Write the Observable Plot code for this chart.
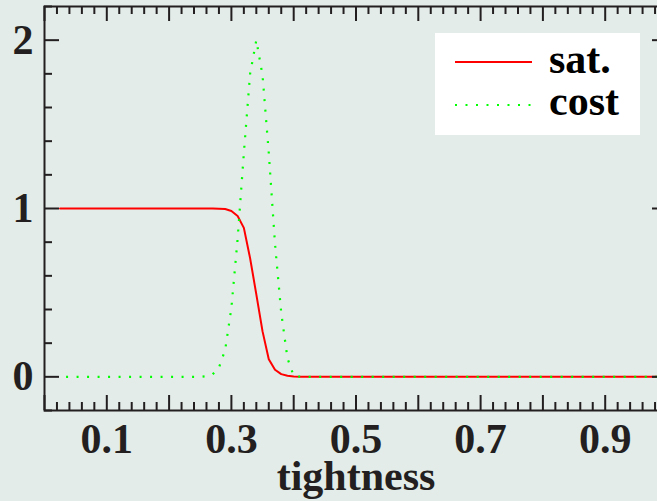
<!DOCTYPE html>
<html>
<head>
<meta charset="utf-8">
<script src="https://cdn.jsdelivr.net/npm/d3@7"></script>
<script src="https://cdn.jsdelivr.net/npm/@observablehq/plot@0.6"></script>
<style>
  html, body { margin: 0; padding: 0; overflow: hidden; background: #e3ece9; }
  #wrap { position: relative; width: 657px; height: 501px; overflow: hidden; }
  #chart svg { max-width: none !important; width: 680px; height: 501px; }
  #legend { position: absolute; left: 435px; top: 33px; width: 205px; height: 102px; background: #ffffff; }
</style>
</head>
<body>
<div id="wrap">
  <div id="chart"></div>
  <div id="legend"></div>
</div>
<script>
// ---- data ----
const tightness = [0.025, 0.05, 0.075, 0.1, 0.125, 0.15, 0.175, 0.2, 0.225, 0.25,
  0.26, 0.27, 0.28, 0.29, 0.30, 0.31, 0.32, 0.33, 0.34, 0.35, 0.36, 0.37, 0.38, 0.39,
  0.40, 0.41, 0.42, 0.45, 0.5, 0.55, 0.6, 0.65, 0.7, 0.75, 0.8, 0.85, 0.9, 0.95, 1.0];
const sat = [1, 1, 1, 1, 1, 1, 1, 1, 1, 1,
  1, 1, 0.999, 0.997, 0.985, 0.955, 0.885, 0.705, 0.49, 0.27, 0.105, 0.042, 0.016, 0.006,
  0.002, 0.001, 0, 0, 0, 0, 0, 0, 0, 0, 0, 0, 0, 0, 0];
const cost = [0, 0, 0, 0, 0, 0, 0, 0, 0, 0,
  0.004, 0.015, 0.055, 0.16, 0.41, 0.82, 1.33, 1.80, 2.0, 1.79, 1.33, 0.79, 0.38, 0.11,
  0.005, 0.001, 0, 0, 0, 0, 0, 0, 0, 0, 0, 0, 0, 0, 0];
const seriesNames = ["sat.", "cost"];

// ---- ticks ----
const xTickLabels = [0.1, 0.3, 0.5, 0.7, 0.9];
const xMajorTicks = [0, 0.1, 0.2, 0.3, 0.4, 0.5, 0.6, 0.7, 0.8, 0.9, 1.0];
const xMinorTicks = [0.02, 0.04, 0.06, 0.08, 0.12, 0.14, 0.16, 0.18, 0.22, 0.24, 0.26, 0.28,
  0.32, 0.34, 0.36, 0.38, 0.42, 0.44, 0.46, 0.48, 0.52, 0.54, 0.56, 0.58, 0.62, 0.64, 0.66, 0.68,
  0.72, 0.74, 0.76, 0.78, 0.82, 0.84, 0.86, 0.88, 0.92, 0.94, 0.96, 0.98];
const yTickLabels = [0, 1, 2];
const yMajorTicks = [0, 1, 2];
const yMinorTicks = [-0.2, 0.2, 0.4, 0.6, 0.8, 1.2, 1.4, 1.6, 1.8, 2.2];
const xLabel = "tightness";

const rows = tightness.map((t, i) => ({t, sat: sat[i], cost: cost[i]}));

const ink = "#231f20";
const W = 680, H = 501, mT = 6, mB = 91, mL = 44, mR = 13;
const plotH = H - mT - mB, plotW = W - mL - mR;
const major = 15, minor = 8;
const font = "'Liberation Serif', 'Times New Roman', serif";
const fs = 42;

const chart = Plot.plot({
  width: W, height: H,
  marginTop: mT, marginBottom: mB, marginLeft: mL, marginRight: mR,
  style: {background: "#e3ece9", fontFamily: font, fontWeight: "bold", color: ink, overflow: "visible", maxWidth: "none"},
  x: {domain: [0, 1]},
  y: {domain: [-0.2, 2.2]},
  marks: [
    Plot.line(rows, {x: "t", y: "sat", stroke: "#ff0000", strokeWidth: 2}),
    Plot.line(rows, {x: "t", y: "cost", stroke: "#00ff00", strokeWidth: 2.2, strokeDasharray: "2,8.5", strokeDashoffset: -6, strokeLinecap: "butt"}),
    // bottom ticks
    Plot.tickX(xMajorTicks, {x: d => d, stroke: ink, strokeWidth: 2, insetTop: plotH - major}),
    Plot.tickX(xMinorTicks, {x: d => d, stroke: ink, strokeWidth: 2, insetTop: plotH - minor}),
    // top ticks
    Plot.tickX(xMajorTicks, {x: d => d, stroke: ink, strokeWidth: 2, insetBottom: plotH - major}),
    Plot.tickX(xMinorTicks, {x: d => d, stroke: ink, strokeWidth: 2, insetBottom: plotH - minor}),
    // left ticks
    Plot.tickY(yMajorTicks, {y: d => d, stroke: ink, strokeWidth: 2, insetRight: plotW - major}),
    Plot.tickY(yMinorTicks, {y: d => d, stroke: ink, strokeWidth: 2, insetRight: plotW - minor}),
    // right ticks
    Plot.tickY(yMajorTicks, {y: d => d, stroke: ink, strokeWidth: 2, insetLeft: plotW - major}),
    Plot.tickY(yMinorTicks, {y: d => d, stroke: ink, strokeWidth: 2, insetLeft: plotW - minor}),
    Plot.frame({stroke: ink, strokeWidth: 2}),
    Plot.axisX(xTickLabels, {tickSize: 0, tickPadding: 13, tickFormat: d => String(d), fontSize: fs, fontWeight: "bold", fontFamily: font, fill: ink, label: null}),
    Plot.axisY(yTickLabels, {tickSize: 0, tickPadding: 11, tickFormat: d => String(d), fontSize: fs, fontWeight: "bold", fontFamily: font, fill: ink, label: null}),
    Plot.text([xLabel], {frameAnchor: "bottom", lineAnchor: "middle", dy: 66.5, fontSize: fs, fontWeight: "bold", fontFamily: font, fill: ink})
  ]
});
document.getElementById("chart").appendChild(chart);

// legend (inside the plot area, top right)
const ns = "http://www.w3.org/2000/svg";
const lg = document.createElementNS(ns, "svg");
lg.setAttribute("width", 205); lg.setAttribute("height", 102);
const styles = [
  {stroke: "#ff0000", dash: null, y: 29, ty: 40},
  {stroke: "#00ff00", dash: "2,8.5", y: 72, ty: 82}
];
seriesNames.forEach((name, i) => {
  const s = styles[i];
  const l = document.createElementNS(ns, "line");
  l.setAttribute("x1", 20); l.setAttribute("x2", 97);
  l.setAttribute("y1", s.y); l.setAttribute("y2", s.y);
  l.setAttribute("stroke", s.stroke); l.setAttribute("stroke-width", 2.2);
  if (s.dash) l.setAttribute("stroke-dasharray", s.dash);
  lg.appendChild(l);
  const t = document.createElementNS(ns, "text");
  t.setAttribute("x", 114); t.setAttribute("y", s.ty);
  t.setAttribute("font-family", font); t.setAttribute("font-weight", "bold");
  t.setAttribute("font-size", fs); t.setAttribute("fill", "#000");
  t.textContent = name;
  lg.appendChild(t);
});
document.getElementById("legend").appendChild(lg);
</script>
</body>
</html>
